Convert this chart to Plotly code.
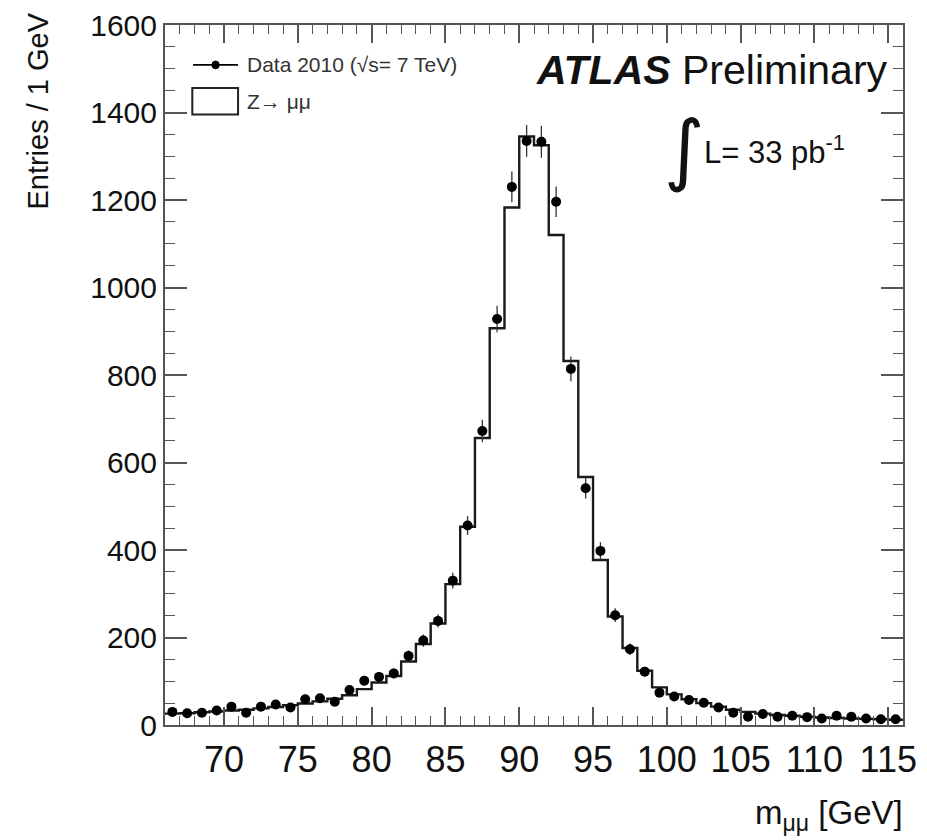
import plotly.graph_objects as go

# ---- data -------------------------------------------------------------
bin_edges_low = list(range(66, 116))            # 1 GeV bins, 66..115
bin_centers = [b + 0.5 for b in bin_edges_low]
x_max = 116

data_counts = [30, 27, 28, 33, 42, 28, 42, 47, 40, 59,
               61, 53, 80, 101, 110, 118, 158, 193, 238, 330,
               456, 672, 928, 1230, 1335, 1333, 1196, 814, 541, 398,
               251, 173, 122, 74, 65, 57, 51, 40, 28, 19,
               25, 19, 21, 18, 15, 21, 19, 15, 13, 13]

data_err = [5.5, 5.2, 5.3, 5.7, 6.5, 5.3, 6.5, 6.9, 6.3, 7.7,
            7.8, 7.3, 8.9, 10.0, 10.5, 10.9, 12.6, 13.9, 15.4, 18.2,
            21.4, 25.9, 30.5, 35.1, 36.5, 36.5, 34.6, 28.5, 23.3, 20.0,
            15.8, 13.2, 11.0, 8.6, 8.1, 7.5, 7.1, 6.3, 5.3, 4.4,
            5.0, 4.4, 4.6, 4.2, 3.9, 4.6, 4.4, 3.9, 3.6, 3.6]

mc_counts = [26, 27, 29, 31, 33, 35, 38, 41, 45, 49,
             54, 60, 68, 82, 97, 112, 145, 185, 232, 322,
             453, 656, 907, 1183, 1345, 1325, 1120, 832, 567, 377,
             248, 176, 124, 86, 70, 59, 50, 42, 35, 30,
             26, 23, 21, 19, 17, 16, 15, 14, 13, 12]

x_tickvals = [70, 75, 80, 85, 90, 95, 100, 105, 110, 115]
y_tickvals = [0, 200, 400, 600, 800, 1000, 1200, 1400, 1600]

# ---- figure -----------------------------------------------------------
FONT = "Liberation Sans, Arial, Helvetica, sans-serif"
fig = go.Figure()

# MC histogram outline (step)
fig.add_trace(go.Scatter(
    x=bin_edges_low + [x_max],
    y=mc_counts + [mc_counts[-1]],
    mode="lines",
    line=dict(shape="hv", color="#1a1a1a", width=2.4),
    showlegend=False, hoverinfo="skip",
))

# data points
fig.add_trace(go.Scatter(
    x=bin_centers, y=data_counts,
    mode="markers",
    marker=dict(color="black", size=10),
    error_y=dict(type="data", array=data_err, color="#333333",
                 thickness=1.3, width=0),
    showlegend=False,
))

axis_common = dict(
    showline=True, linecolor="#555555", linewidth=2, mirror="allticks",
    ticks="inside", tickcolor="#555555", tickwidth=1.5,
    showgrid=False, zeroline=False, automargin=False,
)

fig.update_xaxes(
    range=[66, 116], tickvals=x_tickvals, ticklen=18,
    minor=dict(dtick=1, ticks="inside", ticklen=9, tickcolor="#555555",
               tickwidth=1.2, showgrid=False),
    ticklabelstandoff=2,
    tickfont=dict(family=FONT, size=36, color="#111111"),
    **axis_common,
)
fig.update_yaxes(
    range=[0, 1600], tickvals=y_tickvals, ticklen=22,
    minor=dict(dtick=50, ticks="inside", ticklen=10, tickcolor="#555555",
               tickwidth=1.2, showgrid=False),
    ticklabelstandoff=0,
    tickfont=dict(family=FONT, size=30, color="#111111"),
    **axis_common,
)

annotations = [
    # y-axis title
    dict(text="Entries / 1 GeV", textangle=-90, showarrow=False,
         xref="paper", yref="paper", x=-0.172, y=1.02,
         xanchor="center", yanchor="top",
         font=dict(family=FONT, size=29, color="#111111")),
    # x-axis title
    dict(text="m<sub>μμ</sub> [GeV]", showarrow=False,
         xref="paper", yref="paper", x=1.003, y=-0.128,
         xanchor="right", yanchor="middle",
         font=dict(family=FONT, size=33, color="#111111")),
    # ATLAS label
    dict(text="<b><i>ATLAS</i></b> Preliminary", showarrow=False,
         xref="paper", yref="paper", x=0.982, y=0.936,
         xanchor="right", yanchor="middle",
         font=dict(family=FONT, size=41, color="#111111")),
    # luminosity
    dict(text="∫", showarrow=False,
         xref="paper", yref="paper", x=0.704, y=0.823,
         xanchor="center", yanchor="middle",
         font=dict(family="DejaVu Sans, sans-serif", size=78, color="#111111")),
    dict(text="L= 33 pb<sup>-1</sup>", showarrow=False,
         xref="paper", yref="paper", x=0.728, y=0.822,
         xanchor="left", yanchor="middle",
         font=dict(family=FONT, size=31, color="#111111")),
    # legend texts
    dict(text="Data 2010 (√s= 7 TeV)", showarrow=False,
         xref="paper", yref="paper", x=0.108, y=0.943,
         xanchor="left", yanchor="middle",
         font=dict(family=FONT, size=21, color="#333333")),
    dict(text="Z→ μμ", showarrow=False,
         xref="paper", yref="paper", x=0.108, y=0.891,
         xanchor="left", yanchor="middle",
         font=dict(family=FONT, size=21, color="#333333")),
]

shapes = [
    # legend: data line + marker
    dict(type="line", xref="paper", yref="paper",
         x0=0.038, x1=0.099, y0=0.943, y1=0.943,
         line=dict(color="black", width=1.8)),
    dict(type="circle", xref="paper", yref="paper",
         x0=0.0635, x1=0.0735, y0=0.9375, y1=0.9485,
         fillcolor="black", line=dict(color="black", width=1)),
    # legend: MC box
    dict(type="rect", xref="paper", yref="paper",
         x0=0.037, x1=0.099, y0=0.872, y1=0.910,
         fillcolor="white", line=dict(color="#222222", width=2)),
]

fig.update_layout(
    width=927, height=840,
    margin=dict(l=157, r=32, t=17, b=123, autoexpand=False),
    paper_bgcolor="white", plot_bgcolor="white",
    annotations=annotations, shapes=shapes,
    showlegend=False,
)

fig.write_html("out.html")
